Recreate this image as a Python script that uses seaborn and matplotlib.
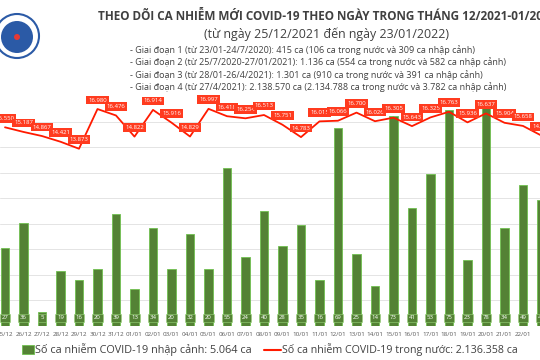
import numpy as np
import pandas as pd
import matplotlib
matplotlib.use("Agg")
import matplotlib.pyplot as plt
from matplotlib.patches import Circle, Rectangle
import seaborn as sns

dates = ["25/12", "26/12", "27/12", "28/12", "29/12", "30/12", "31/12", "01/01", "02/01", "03/01",
         "04/01", "05/01", "06/01", "07/01", "08/01", "09/01", "10/01", "11/01", "12/01", "13/01",
         "14/01", "15/01", "16/01", "17/01", "18/01", "19/01", "20/01", "21/01", "22/01", "23/01"]
imported = [27, 36, 5, 19, 16, 20, 39, 13, 34, 20,
            32, 20, 55, 24, 40, 28, 35, 16, 69, 25,
            14, 73, 41, 53, 75, 23, 78, 34, 49, 44]
domestic = [15550, 15187, 14867, 14421, 13873, 16980, 16476, 14822, 16914, 15916,
            14829, 16997, 16418, 16254, 16513, 15751, 14783, 16015, 16066, 16700,
            16026, 16305, 15643, 16325, 16763, 15936, 16637, 15904, 15658, 14900]

title = "THEO DÕI CA NHIỄM MỚI COVID-19 THEO NGÀY TRONG THÁNG 12/2021-01/2022"
subtitle = "(từ ngày 25/12/2021 đến ngày 23/01/2022)"
phases = [
    "- Giai đoạn 1 (từ 23/01-24/7/2020): 415 ca (106 ca trong nước và 309 ca nhập cảnh)",
    "- Giai đoạn 2 (từ 25/7/2020-27/01/2021): 1.136 ca (554 ca trong nước và 582 ca nhập cảnh)",
    "- Giai đoạn 3 (từ 28/01-26/4/2021): 1.301 ca (910 ca trong nước và 391 ca nhập cảnh)",
    "- Giai đoạn 4 (từ 27/4/2021): 2.138.570 ca (2.134.788 ca trong nước và 3.782 ca nhập cảnh)",
]
legend_imported = "Số ca nhiễm COVID-19 nhập cảnh: 5.064 ca"
legend_domestic = "Số ca nhiễm COVID-19 trong nước: 2.136.358 ca"

sns.set_theme(style="white")
plt.rcParams["font.family"] = ["Open Sans", "DejaVu Sans"]

GREEN = "#548235"
RED = "#FF1A00"
LABEL_RED = "#FF3B1F"
TXT = "#404040"

fig = plt.figure(figsize=(5.4, 3.6), dpi=100)
fig.patch.set_facecolor("white")

ax = fig.add_axes([0, 34 / 360, 1, 230 / 360])
df = pd.DataFrame({"date": dates, "imported": imported, "domestic": domestic})
sns.barplot(data=df, x="date", y="imported", ax=ax, color=GREEN, saturation=1,
            width=0.45, edgecolor="#70C050", linewidth=0.6, zorder=2)
ax.set_xlim(-0.27, 28.92)
ax.set_ylim(0, 80)
for t in range(2000, 18000, 2000):
    ax.axhline(t * 80 / 18000, color="#E4E4E4", lw=0.7, zorder=0)
ax.set_xlabel("")
ax.set_ylabel("")
ax.set_yticks([])
ax.tick_params(axis="x", length=0, pad=4, labelsize=4.5, labelcolor="#595959")
for s in ax.spines.values():
    s.set_visible(False)

for i, v in enumerate(imported):
    ax.text(i, 2.8, str(v), ha="center", va="center", fontsize=4.3, color="white",
            bbox=dict(boxstyle="square,pad=0.3", fc=GREEN, ec="#9AD37A", lw=0.4), zorder=5)

ax2 = ax.twinx()
df["pos"] = np.arange(len(dates))
sns.lineplot(data=df, x="pos", y="domestic", ax=ax2, color=RED, lw=1.3)
ax2.set_ylim(0, 18000)
ax2.set_xlim(-0.27, 28.92)
ax2.set_yticks([])
ax2.set_xlabel("")
ax2.set_ylabel("")
for s in ax2.spines.values():
    s.set_visible(False)
for i, v in enumerate(domestic):
    lab = f"{v:,}".replace(",", ".")
    ax2.annotate(lab, (i, v), xytext=(0, 6.5), textcoords="offset points",
                 ha="center", va="center", fontsize=4.3, color="white", annotation_clip=False,
                 bbox=dict(boxstyle="square,pad=0.3", fc=LABEL_RED, ec="none"))

# overlay in pixel coordinates
ov = fig.add_axes([0, 0, 1, 1])
ov.set_xlim(0, 540)
ov.set_ylim(360, 0)
ov.axis("off")
ov.patch.set_visible(False)

# logo
ov.add_patch(Circle((17, 36), 22, fc="white", ec="#2B5AA6", lw=1.5))
ov.add_patch(Circle((17, 37), 16, fc="#2B5AA6", ec="none"))
ov.add_patch(Circle((17, 37), 3, fc="#E53935", ec="none"))

ov.text(327, 17, title, ha="center", va="center", fontsize=8.45, fontweight="bold", color=TXT)
ov.text(327, 34, subtitle, ha="center", va="center", fontsize=8.9, color=TXT)
for k, p in enumerate(phases):
    ov.text(130, 50 + k * 12.3, p, ha="left", va="center", fontsize=6.5, color=TXT)

ov.add_patch(Rectangle((22, 345), 12, 9, fc=GREEN, ec="#70C050", lw=0.6))
ov.text(35, 350, legend_imported, ha="left", va="center", fontsize=7.8, color=TXT)
ov.plot([264, 281], [350, 350], color=RED, lw=1.5)
ov.text(282, 350, legend_domestic, ha="left", va="center", fontsize=7.7, color=TXT)

fig.savefig("out.png", dpi=100)
